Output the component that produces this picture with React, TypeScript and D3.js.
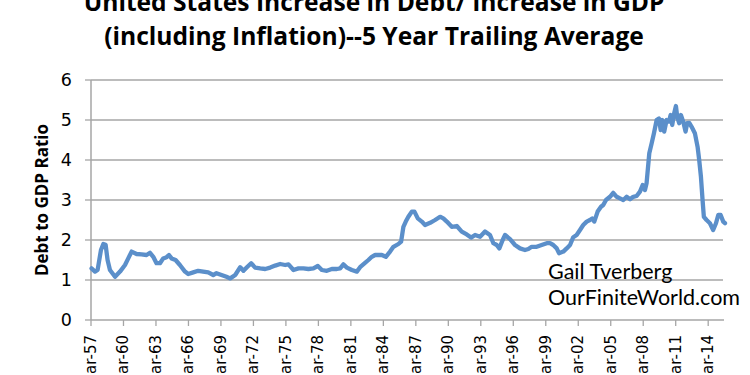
import React from "react";
import * as d3 from "d3";

const titleLines = [
  "United States Increase in Debt/ Increase in GDP",
  "(including Inflation)--5 Year Trailing Average",
];
const yAxisTitle = "Debt to GDP Ratio";
const yTicks = [0, 1, 2, 3, 4, 5, 6];
const xTickYears = [57, 60, 63, 66, 69, 72, 75, 78, 81, 84, 87, 90, 93, 96, 99, 2, 5, 8, 11, 14];
const watermark = ["Gail Tverberg", "OurFiniteWorld.com"];

// decimal years of readings
const years = [
  1957.22, 1957.54, 1957.78, 1958.09, 1958.31, 1958.52, 1958.7, 1958.92, 1959.39, 1959.85,
  1960.31, 1960.61, 1960.92, 1961.38, 1961.84, 1962.3, 1962.62, 1962.92, 1963.22, 1963.54,
  1963.84, 1964.15, 1964.37, 1964.61, 1964.98, 1965.38, 1965.85, 1966.15, 1966.61, 1967.07,
  1967.53, 1968.0, 1968.46, 1968.76, 1969.22, 1969.68, 1970.03, 1970.49, 1970.95, 1971.25,
  1971.57, 1971.96, 1972.33, 1972.8, 1973.26, 1973.72, 1974.18, 1974.64, 1975.1, 1975.41,
  1975.87, 1976.33, 1976.79, 1977.25, 1977.71, 1978.12, 1978.49, 1978.95, 1979.41, 1979.87,
  1980.18, 1980.48, 1980.8, 1981.26, 1981.72, 1982.02, 1982.45, 1982.79, 1983.1, 1983.41,
  1983.71, 1984.03, 1984.4, 1984.79, 1985.1, 1985.56, 1985.81, 1986.02, 1986.24, 1986.48,
  1986.8, 1987.04, 1987.35, 1987.72, 1988.02, 1988.49, 1988.95, 1989.41, 1989.71, 1990.03,
  1990.49, 1990.95, 1991.41, 1991.87, 1992.27, 1992.64, 1993.1, 1993.56, 1994.02, 1994.33,
  1994.64, 1994.88, 1995.19, 1995.41, 1995.87, 1996.33, 1996.79, 1997.25, 1997.56, 1997.87,
  1998.33, 1998.79, 1999.26, 1999.56, 1999.86, 2000.18, 2000.39, 2000.79, 2001.1, 2001.41,
  2001.71, 2002.02, 2002.33, 2002.63, 2002.95, 2003.25, 2003.46, 2003.65, 2003.96, 2004.27,
  2004.48, 2004.73, 2005.1, 2005.4, 2005.72, 2006.02, 2006.33, 2006.64, 2006.95, 2007.25,
  2007.56, 2007.87, 2008.12, 2008.33, 2008.48, 2008.73, 2008.95, 2009.16, 2009.41, 2009.62,
  2009.78, 2009.93, 2010.11, 2010.33, 2010.54, 2010.7, 2010.85, 2011.03, 2011.19, 2011.31,
  2011.49, 2011.65, 2011.86, 2012.08, 2012.23, 2012.42, 2012.64, 2012.94, 2013.19, 2013.34,
  2013.5, 2013.65, 2013.77, 2014.02, 2014.33, 2014.63, 2014.89, 2015.1, 2015.32, 2015.56,
  2015.72,
];
const ratios = [
  1.29, 1.21, 1.25, 1.75, 1.9, 1.88, 1.5, 1.25, 1.08, 1.21,
  1.375, 1.54, 1.71, 1.65, 1.64, 1.625, 1.68, 1.58, 1.42, 1.42,
  1.54, 1.57, 1.625, 1.54, 1.5, 1.375, 1.21, 1.15, 1.19, 1.23,
  1.21, 1.19, 1.125, 1.17, 1.125, 1.08, 1.04, 1.125, 1.32, 1.23,
  1.32, 1.42, 1.31, 1.29, 1.275, 1.31, 1.36, 1.4, 1.375, 1.39,
  1.25, 1.29, 1.29, 1.275, 1.29, 1.35, 1.25, 1.23, 1.275, 1.275,
  1.29, 1.39, 1.31, 1.25, 1.21, 1.32, 1.42, 1.5, 1.58, 1.625,
  1.625, 1.625, 1.58, 1.71, 1.83, 1.9, 1.96, 2.33, 2.46, 2.58,
  2.71, 2.71, 2.54, 2.46, 2.375, 2.43, 2.5, 2.58, 2.54, 2.46,
  2.33, 2.35, 2.21, 2.14, 2.06, 2.125, 2.08, 2.21, 2.125, 1.92,
  1.875, 1.79, 2.0, 2.125, 2.02, 1.875, 1.79, 1.75, 1.775, 1.83,
  1.83, 1.875, 1.92, 1.92, 1.875, 1.79, 1.67, 1.71, 1.79, 1.875,
  2.07, 2.125, 2.25, 2.375, 2.46, 2.5, 2.54, 2.46, 2.71, 2.83,
  2.875, 3.0, 3.08, 3.18, 3.08, 3.04, 3.0, 3.08, 3.02, 3.08,
  3.1, 3.21, 3.375, 3.25, 3.42, 4.17, 4.42, 4.67, 5.0, 5.04,
  4.75, 5.0, 4.71, 5.0, 4.96, 5.125, 4.875, 5.17, 5.35, 5.08,
  4.92, 5.125, 4.96, 4.71, 4.92, 4.93, 4.83, 4.67, 4.33, 4.0,
  3.58, 3.0, 2.58, 2.5, 2.42, 2.25, 2.42, 2.625, 2.625, 2.46,
  2.42,
];

const W = 750;
const H = 375;
const left = 91;
const right = 724;
const top = 80;
const bottom = 320;

export default function App() {
  const x = d3.scaleLinear().domain([1957.17, 2015.63]).range([left, right]);
  const y = d3.scaleLinear().domain([0, 6]).range([bottom, top]);
  const data = years.map((yr, i) => ({ yr, v: ratios[i] }));
  const line = d3
    .line<{ yr: number; v: number }>()
    .x((d) => x(d.yr))
    .y((d) => y(d.v))
    .curve(d3.curveLinear);

  const tickYear = (k: number) => 1957.17 + 3 * k;
  const fmt = (n: number) => `Mar-${String(n).padStart(2, "0")}`;

  return (
    <svg
      width={W}
      height={H}
      style={{ position: "absolute", left: 0, top: 0, background: "#fff" }}
    >
      <rect width={W} height={H} fill="#fff" />
      {/* title */}
      <g fontFamily="'Open Sans', Lato, sans-serif" fontWeight={700} fontSize={24.6} fill="#000" textAnchor="middle">
        <text x={374} y={11}>{titleLines[0]}</text>
        <text x={374} y={45}>{titleLines[1]}</text>
      </g>
      {/* gridlines */}
      {yTicks.slice(1).map((t) => (
        <line key={"g" + t} x1={left} x2={right - 1} y1={y(t)} y2={y(t)} stroke="#a6a6a6" strokeWidth={1.3} />
      ))}
      {/* y axis */}
      <line x1={left} x2={left} y1={top} y2={bottom} stroke="#a6a6a6" strokeWidth={1.5} />
      {yTicks.map((t) => (
        <g key={"yt" + t}>
          <line x1={left - 6} x2={left} y1={y(t)} y2={y(t)} stroke="#a6a6a6" strokeWidth={1.3} />
          <text
            x={72}
            y={y(t)}
            dy="0.36em"
            textAnchor="end"
            fontFamily="'DejaVu Sans', sans-serif"
            fontSize={17.5}
            fill="#000"
          >
            {t}
          </text>
        </g>
      ))}
      {/* x axis */}
      <line x1={left} x2={right} y1={bottom} y2={bottom} stroke="#a6a6a6" strokeWidth={1.5} />
      {xTickYears.map((n, k) => {
        const xx = x(tickYear(k));
        return (
          <g key={"xt" + k}>
            <line x1={xx} x2={xx} y1={bottom} y2={bottom + 6} stroke="#a6a6a6" strokeWidth={1.3} />
            <text
              transform={`translate(${xx + 5},335) rotate(-90)`}
              textAnchor="end"
              fontFamily="'DejaVu Sans', sans-serif"
              fontSize={15}
              fill="#000"
            >
              {fmt(n)}
            </text>
          </g>
        );
      })}
      {/* y axis title */}
      <text
        transform="translate(48,200) rotate(-90)"
        textAnchor="middle"
        fontFamily="'Open Sans', Lato, sans-serif"
        fontWeight={700}
        fontSize={17}
        fill="#000"
      >
        {yAxisTitle}
      </text>
      {/* series */}
      <path
        d={line(data) || ""}
        fill="none"
        stroke="#5b8fca"
        strokeWidth={4.3}
        strokeLinejoin="round"
        strokeLinecap="round"
      />
      {/* watermark */}
      <g fontFamily="Lato, 'Open Sans', sans-serif" fontSize={21.5} fill="#000">
        <text x={548} y={279}>{watermark[0]}</text>
        <text x={548} y={305}>{watermark[1]}</text>
      </g>
    </svg>
  );
}
